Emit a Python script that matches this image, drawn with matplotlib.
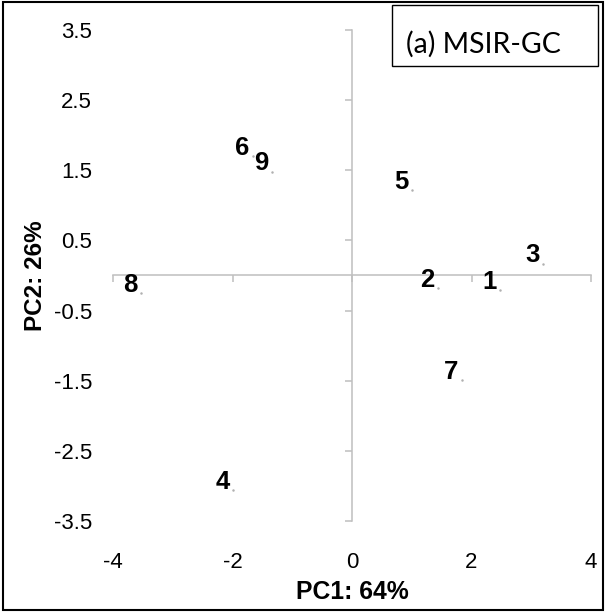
import matplotlib
matplotlib.use("Agg")
import matplotlib.pyplot as plt
from matplotlib.patches import Rectangle

# PCA scores
labels = ["1", "2", "3", "4", "5", "6", "7", "8", "9"]
pc1 = [2.48, 1.44, 3.20, -1.99, 1.00, -1.66, 1.84, -3.54, -1.34]
pc2 = [-0.21, -0.18, 0.17, -3.06, 1.22, 1.70, -1.49, -0.25, 1.48]

xticks = [-4, -2, 0, 2, 4]
yticks = [-3.5, -2.5, -1.5, -0.5, 0.5, 1.5, 2.5, 3.5]

plt.rcParams["font.family"] = ["Liberation Sans", "DejaVu Sans"]
plt.rcParams["axes.unicode_minus"] = False
grey = "#bfbfbf"

fig = plt.figure(figsize=(6.06, 6.12), dpi=100)
rect = [0.1865, 0.1487, 0.7888, 0.8023]

# axes crossing at the origin
ax = fig.add_axes(rect)
ax.set_xlim(-4, 4)
ax.set_ylim(-3.5, 3.5)
ax.set_xticks(xticks)
ax.set_yticks(yticks)
for s in ["top", "right"]:
    ax.spines[s].set_visible(False)
for s in ["left", "bottom"]:
    ax.spines[s].set_position(("data", 0))
    ax.spines[s].set_color(grey)
    ax.spines[s].set_linewidth(1.1)
ax.tick_params(direction="out", length=5, width=1.1, color=grey,
               labelbottom=False, labelleft=False)

ax.scatter(pc1, pc2, s=0.6, color="#b0b0b0", zorder=3)
for lab, x, y in zip(labels, pc1, pc2):
    ax.annotate(lab, (x, y), xytext=(-2.5, 6), textcoords="offset points",
                ha="right", va="center", fontsize=18.5, fontweight="bold")

# tick labels sit at the edges of the plot area (Excel "low" position)
lab_ax = fig.add_axes(rect)
lab_ax.set_xlim(-4, 4)
lab_ax.set_ylim(-3.5, 3.5)
lab_ax.set_xticks(xticks)
lab_ax.set_yticks(yticks)
lab_ax.patch.set_visible(False)
for s in lab_ax.spines.values():
    s.set_visible(False)
lab_ax.tick_params(axis="x", length=0, pad=22.5, labelsize=16)
lab_ax.tick_params(axis="y", length=0, pad=15, labelsize=16)
lab_ax.set_xlabel("PC1: 64%", fontsize=17.8, fontweight="bold", va="center")
lab_ax.set_ylabel("PC2: 26%", fontsize=17.5, fontweight="bold", va="center")
lab_ax.xaxis.set_label_coords(0.5, -0.145)
lab_ax.yaxis.set_label_coords(-0.162, 0.5)

# panel tag box and outer border
fig.patches.append(Rectangle((392 / 606, 1 - 66 / 612), 206 / 606, 61 / 612,
                             transform=fig.transFigure, fill=False,
                             edgecolor="black", linewidth=1.0))
fig.text(406 / 606, 1 - 44 / 612, "(a) MSIR-GC", family=["Lato", "DejaVu Sans"],
         fontsize=20.5, ha="left", va="center")
fig.patches.append(Rectangle((0.005, 0.004), 0.99, 0.992,
                             transform=fig.transFigure, fill=False,
                             edgecolor="black", linewidth=1.5))

fig.savefig("out.png", dpi=100)
